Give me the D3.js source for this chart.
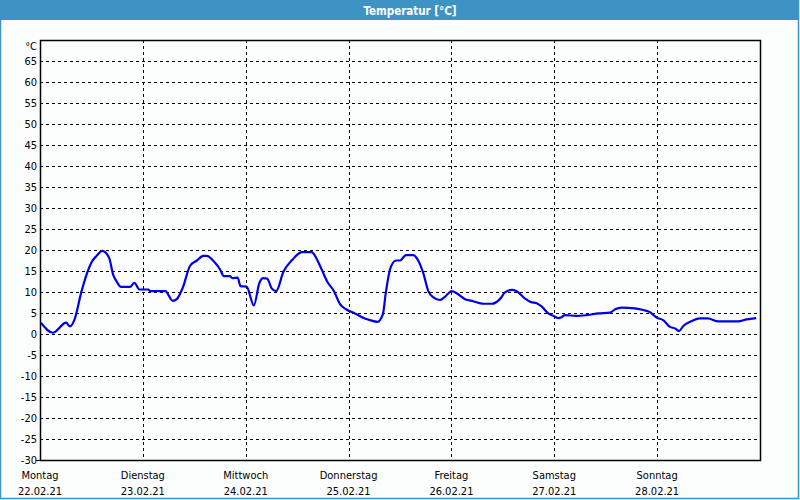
<!DOCTYPE html>
<html><head><meta charset="utf-8">
<script src="https://cdn.jsdelivr.net/npm/d3@7"></script>
<style>
html,body{margin:0;padding:0;background:#fff;}
svg{display:block;}
text{font-family:"DejaVu Sans Condensed","DejaVu Sans",sans-serif;font-stretch:condensed;}
</style></head>
<body>
<svg id="c" width="800" height="500"></svg>
<script>
const title = "Temperatur [°C]";
const unitLabel = "°C";
const dayNames = ["Montag","Dienstag","Mittwoch","Donnerstag","Freitag","Samstag","Sonntag"];
const dayDates = ["22.02.21","23.02.21","24.02.21","25.02.21","26.02.21","27.02.21","28.02.21"];
const yTicks = [-30,-25,-20,-15,-10,-5,0,5,10,15,20,25,30,35,40,45,50,55,60,65];
// hours since Monday 00:00
const hours = [0.2,3.0,6.1,7.0,8.0,9.7,11.3,12.1,13.2,14.5,16.1,17.1,17.9,18.9,21.0,22.0,23.2,25.3,25.7,29.2,31.0,31.9,33.3,35.0,36.6,38.1,38.9,40.8,42.0,42.9,44.3,44.9,46.1,46.8,48.2,49.9,51.2,52.1,53.0,54.1,55.1,56.8,59.0,61.1,63.4,64.6,65.7,67.0,68.6,70.0,71.4,73.5,75.8,77.0,78.7,80.0,80.7,81.8,83.1,84.0,85.4,87.1,88.3,89.4,90.6,91.8,93.3,94.3,96.1,97.2,99.2,101.1,103.4,105.4,107.3,108.5,110.1,111.2,113.2,114.5,115.9,117.1,118.6,119.8,120.9,121.7,122.5,125.2,127.6,130.3,133.0,134.2,135.7,138.8,140.8,142.3,143.9,145.4,147.0,148.2,149.1,150.1,152.1,154.0,155.8,158.3,162.9,164.9,167.1];
const temps = [2.7,0.3,2.7,1.8,3.3,10.2,15.4,17.2,18.6,19.8,18.2,14.0,12.5,11.2,11.2,12.2,10.6,10.6,10.2,10.2,7.9,8.3,11.0,16.2,17.5,18.6,18.6,17.0,15.4,13.8,13.8,13.3,13.4,11.4,11.3,6.8,12.2,13.3,13.2,10.8,10.2,14.8,17.8,19.5,19.5,17.8,15.4,12.5,10.2,7.1,5.9,4.9,3.7,3.3,2.9,4.7,9.9,15.8,17.5,17.5,18.8,18.8,17.4,14.6,10.2,8.7,8.1,8.7,10.2,9.7,8.3,7.8,7.2,7.2,8.3,9.9,10.5,10.2,8.4,7.6,7.3,6.5,4.9,4.3,3.8,4.0,4.5,4.3,4.5,4.9,5.1,5.9,6.3,6.1,5.7,5.2,3.9,3.3,1.7,1.3,0.7,1.9,3.1,3.7,3.7,3.0,3.0,3.5,3.8];

const svg = d3.select("#c");
const W = 800, H = 500;
const blue = "#3d93c4";
svg.append("rect").attr("x",0).attr("y",0).attr("width",W).attr("height",H).attr("fill","#fcfefd");
// frame
svg.append("rect").attr("x",0.5).attr("y",0.5).attr("width",W-2).attr("height",H-2)
  .attr("fill","none").attr("stroke",blue).attr("stroke-width",1.5);
svg.append("rect").attr("x",0).attr("y",0).attr("width",W-1).attr("height",20).attr("fill",blue);
svg.append("text").attr("x",410).attr("y",14.5).attr("text-anchor","middle")
  .attr("fill","#fff").attr("font-weight","bold").attr("font-size","11.5px").text(title);

const L = 40, R = 760, T = 40, B = 460;
const x = d3.scaleLinear().domain([0, 168]).range([L, R]);
const y = d3.scaleLinear().domain([-30, 70]).range([B, T]);

const g = svg.append("g");
// horizontal grid
g.selectAll("line.hg").data(yTicks.filter(v => v > -30)).join("line")
  .attr("x1",L).attr("x2",R).attr("y1",d=>Math.round(y(d))+0.5).attr("y2",d=>Math.round(y(d))+0.5)
  .attr("stroke","#000").attr("stroke-width",1).attr("stroke-dasharray","3,3");
// vertical grid
g.selectAll("line.vg").data(d3.range(1,7)).join("line")
  .attr("x1",d=>Math.round(x(d*24))+0.5).attr("x2",d=>Math.round(x(d*24))+0.5)
  .attr("y1",T).attr("y2",B)
  .attr("stroke","#000").attr("stroke-width",1).attr("stroke-dasharray","3,3");
// plot border
g.append("rect").attr("x",L+0.5).attr("y",T+0.5).attr("width",R-L).attr("height",B-T)
  .attr("fill","none").attr("stroke","#000").attr("stroke-width",1.5);
// bottom-left small tick
g.append("line").attr("x1",L-4).attr("x2",L).attr("y1",B+0.5).attr("y2",B+0.5).attr("stroke","#000");

// y labels
g.selectAll("text.yl").data(yTicks).join("text")
  .attr("x",37).attr("y",d=>y(d)+4).attr("text-anchor","end")
  .attr("font-size","11px").attr("fill","#000").text(d=>d);
g.append("text").attr("x",37).attr("y",y(70)+10).attr("text-anchor","end")
  .attr("font-size","11px").attr("fill","#000").text(unitLabel);

// x labels
g.selectAll("text.xn").data(dayNames).join("text")
  .attr("x",(d,i)=>x(i*24)).attr("y",479).attr("text-anchor","middle")
  .attr("font-size","11px").attr("fill","#000").text(d=>d);
g.selectAll("text.xd").data(dayDates).join("text")
  .attr("x",(d,i)=>x(i*24)).attr("y",495).attr("text-anchor","middle")
  .attr("font-size","11px").attr("fill","#000").text(d=>d);

const pts = hours.map((h,i)=>[h,temps[i]]);
const line = d3.line().x(d=>x(d[0])).y(d=>y(d[1])).curve(d3.curveMonotoneX);
g.append("path").datum(pts).attr("d",line).attr("fill","none")
  .attr("stroke","#0000e6").attr("stroke-width",2.2).attr("stroke-linejoin","round");
</script>
</body></html>
